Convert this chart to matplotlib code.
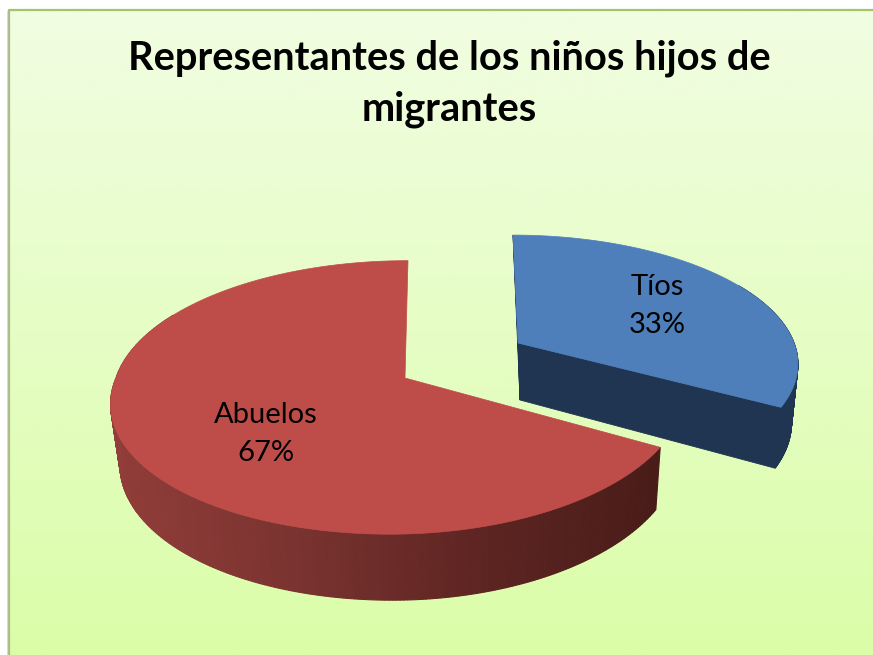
import numpy as np
import matplotlib
matplotlib.use("Agg")
import matplotlib.pyplot as plt
from matplotlib.colors import LinearSegmentedColormap

plt.rcParams['font.family'] = ['Lato', 'DejaVu Sans']

title = "Representantes de los niños hijos de\nmigrantes"
labels = ["Tíos", "Abuelos"]
values = [33, 67]
top_colors = ["#4F7FBB", "#BE4D4A"]
cut_colors = ["#1F3552", "#4A1D1A"]
side_colors = [["#1F3552", "#1F3552"], ["#913D39", "#7A3330", "#5E2522", "#491C19"]]

# each slice has its own perspective numbers
geom = [
    dict(cx=518, cy=343, al=276, ar=276, c=124, k=-0.149, s=5, sf=0, shrink=0.97, d0=57, d1=8),
    dict(cx=405, cy=378, al=289, ar=279, c=134, k=-0.142, s=-3, sf=-12, shrink=0.975, d0=59, d1=7),
]
label_pos = [(657, 306), (266, 434)]


def top_edge(t, g):
    u = np.sin(t)
    v = -np.cos(t)
    den = 1 + g["k"] * v
    a = np.where(u < 0, g["al"], g["ar"])
    x = g["cx"] + a * u / den + g["s"] * v + g["sf"] * np.clip(v, 0, None)
    return x, g["cy"] + g["c"] * v / den


def bottom_edge(t, g):
    x, y = top_edge(t, g)
    v = -np.cos(t)
    return g["cx"] + 2 + (x - g["cx"]) * g["shrink"], y + g["d0"] + g["d1"] * v


fig = plt.figure(figsize=(8.73, 6.55), dpi=100, facecolor="white")
ax = fig.add_axes([0, 0, 1, 1])
ax.set_xlim(0, 873)
ax.set_ylim(655, 0)
ax.axis("off")

# chart area background
bg = LinearSegmentedColormap.from_list("bg", ["#F1FDE2", "#DBFDA8"])
ax.imshow(np.linspace(0, 1, 256).reshape(-1, 1), cmap=bg, extent=(9, 873, 655, 10), aspect="auto", zorder=0)
ax.set_xlim(0, 873)
ax.set_ylim(655, 0)
ax.plot([9, 9, 873], [655, 10, 10], color="#A3C467", lw=1.6, zorder=1)
ax.plot([7.5, 7.5], [655, 12], color="#BBBBBB", lw=1.2, alpha=0.6, zorder=1)

ends = np.cumsum(values) / np.sum(values) * 2 * np.pi
starts = np.concatenate([[0], ends[:-1]])

for i in [1, 0]:
    g = geom[i]
    t = np.linspace(starts[i], ends[i], 360)
    x_top, y_top = top_edge(t, g)
    x_bot, y_bot = bottom_edge(t, g)
    side = LinearSegmentedColormap.from_list("side", side_colors[i])
    z = 2 + (1 - i) * 5

    # outer wall, thin strips so the shade can change along it
    # the back of the rim cannot be seen, so it is left out
    for j in range(len(t) - 1):
        if np.cos(t[j]) > 0.5:
            continue
        shade = (x_top[j] - 110) / 550
        ax.fill([x_top[j], x_top[j + 1], x_bot[j + 1], x_bot[j]],
                [y_top[j], y_top[j + 1], y_bot[j + 1], y_bot[j]],
                color=side(np.clip(shade, 0, 1)), lw=0.8, zorder=z)

    ax_, ay_ = g["cx"], g["cy"]
    bx_ = g["cx"] + 2
    # cut faces, only the blue slice shows them
    if i == 0:
        by_ = g["cy"] + g["d0"]
        ax.fill([x_top[0], ax_, bx_], [y_top[0], ay_, by_], color=cut_colors[i], lw=0.6, zorder=z)
        ax.fill([x_top[-1], ax_, bx_, x_bot[-1]], [y_top[-1], ay_, by_, y_bot[-1]],
                color=cut_colors[i], lw=0.6, zorder=z)

    # top face
    ax.fill(np.r_[ax_, x_top], np.r_[ay_, y_top], color=top_colors[i], lw=0.5, zorder=z + 1)

for i, name in enumerate(labels):
    ax.text(label_pos[i][0], label_pos[i][1], f"{name}\n{values[i]}%", ha="center", va="center",
            fontsize=21, color="black", linespacing=1.58, zorder=20)

ax.text(449, 84, title, ha="center", va="center", fontsize=28.7, fontweight="bold",
        color="black", linespacing=1.45, zorder=20)

fig.savefig("out.png", dpi=100)
